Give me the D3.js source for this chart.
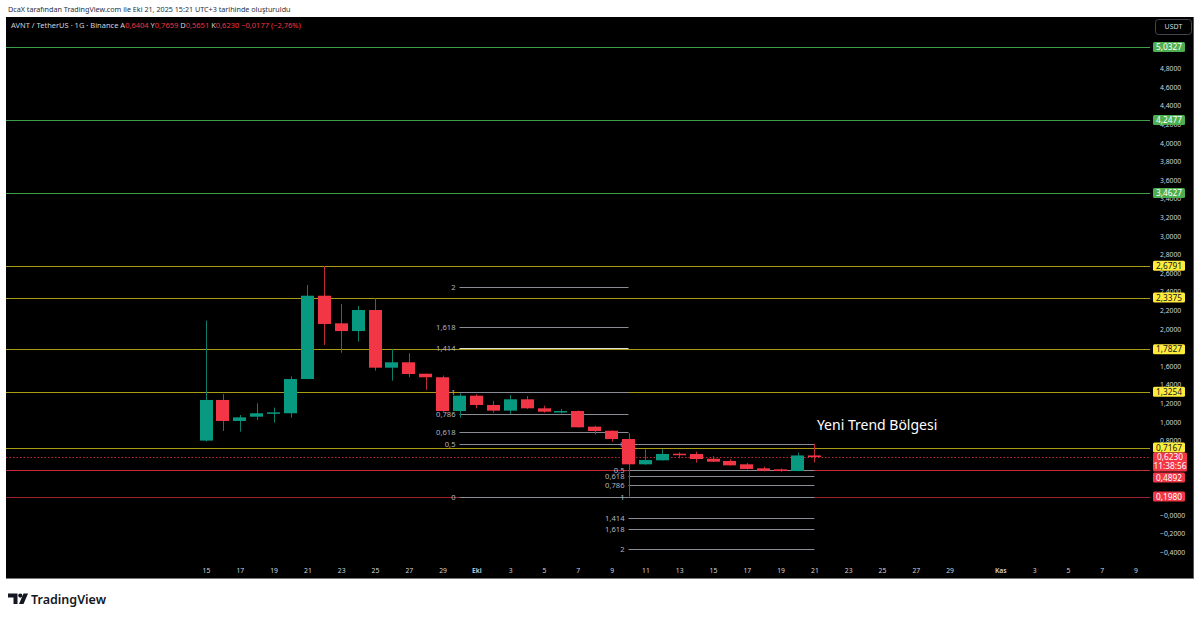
<!DOCTYPE html>
<html><head><meta charset="utf-8">
<script src="https://cdn.jsdelivr.net/npm/d3@7"></script>
<style>
body{margin:0;background:#fff;}
svg{display:block;font-family:"Noto Sans",sans-serif;}
</style>
</head><body>
<svg id="c" width="1200" height="617"></svg>
<script>
// ---------- DATA ----------
const opens  = [0.800,1.237,1.011,1.057,1.094,1.094,1.462,2.358,2.061,1.978,2.204,1.584,1.642,1.519,1.481,1.118,1.283,1.183,1.122,1.244,1.147,1.111,1.118,0.950,0.906,0.817,0.545,0.588,0.659,0.656,0.605,0.581,0.545,0.502,0.491,0.473,0.6404];
const highs  = [2.090,1.300,1.075,1.200,1.154,1.491,2.473,2.677,2.269,2.247,2.330,1.782,1.739,1.520,1.500,1.309,1.298,1.229,1.290,1.280,1.175,1.140,1.125,0.960,0.910,0.880,0.706,0.706,0.674,0.681,0.634,0.599,0.560,0.520,0.500,0.670,0.7659];
const lows   = [0.790,0.903,0.896,1.022,0.993,1.046,1.460,1.828,1.745,1.864,1.552,1.444,1.481,1.344,1.110,1.046,1.147,1.100,1.083,1.140,1.100,1.093,0.940,0.868,0.788,0.198,0.540,0.585,0.610,0.562,0.570,0.530,0.490,0.470,0.465,0.470,0.5651];
const closes = [1.237,1.011,1.050,1.094,1.104,1.462,2.358,2.054,1.978,2.204,1.584,1.642,1.516,1.481,1.118,1.283,1.183,1.122,1.244,1.147,1.111,1.118,0.943,0.903,0.817,0.545,0.591,0.656,0.652,0.602,0.573,0.534,0.495,0.476,0.473,0.6404,0.6230];
const firstDay = "2025-09-15";

const greenLevels  = [5.0327, 4.2477, 3.4627];
const yellowLevels = [2.6791, 2.3375, 1.7827, 1.3254, 0.7167];
const redLevels    = [0.4892, 0.1980];
const lastPrice = 0.6230;
const countdown = "11:38:56";

const fibLevels = [0, 0.5, 0.618, 0.786, 1, 1.414, 1.618, 2];
const fib1 = {p0: 0.198, p1: 1.3254, from: "2025-09-30", to: "2025-10-10"};
const fib2 = {p0: 0.765, p1: 0.198, from: "2025-10-10", to: "2025-10-21"};

const yTicks = [4.8,4.6,4.4,4.2,4.0,3.8,3.6,3.4,3.2,3.0,2.8,2.6,2.4,2.2,2.0,1.8,1.6,1.4,1.2,1.0,0.8,0.6,0.4,0.2,0,-0.2,-0.4];
const yTickLabels = ["4,8000","4,6000","4,4000","4,2000","4,0000","3,8000","3,6000","3,4000","3,2000","3,0000","2,8000","2,6000","2,4000","2,2000","2,0000","1,8000","1,6000","1,4000","1,2000","1,0000","0,8000","0,6000","0,4000","0,2000","\u22120,0000","\u22120,2000","\u22120,4000"];

const xTickDates = ["2025-09-15","2025-09-17","2025-09-19","2025-09-21","2025-09-23","2025-09-25","2025-09-27","2025-09-29","2025-10-01","2025-10-03","2025-10-05","2025-10-07","2025-10-09","2025-10-11","2025-10-13","2025-10-15","2025-10-17","2025-10-19","2025-10-21","2025-10-23","2025-10-25","2025-10-27","2025-10-29","2025-11-01","2025-11-03","2025-11-05","2025-11-07","2025-11-09"];
const xTickLabels = ["15","17","19","21","23","25","27","29","Eki","3","5","7","9","11","13","15","17","19","21","23","25","27","29","Kas","3","5","7","9"];

const annotation = {text: "Yeni Trend Bölgesi", date: "2025-10-21", price: 0.914};
const headerTitle = "AVNT / TetherUS \u00b7 1G \u00b7 Binance";
const headerOHLC = [["A","0,6404"],["Y","0,7659"],["D","0,5651"],["K","0,6230"]];
const headerChange = "\u22120,0177 (\u22122,76%)";
const topNote = "DcaX tarafından TradingView.com ile Eki 21, 2025 15:21 UTC+3 tarihinde oluşturuldu";

// ---------- LAYOUT ----------
const panel = {x0: 6, x1: 1194, y0: 17, y1: 579};
const plot = {x0: 6, x1: 1150, y0: 17, y1: 561};
const parse = d3.utcParse("%Y-%m-%d");
const dates = d3.utcDay.range(parse(firstDay), d3.utcDay.offset(parse(firstDay), opens.length));
const candles = dates.map((d,i)=>({date:d,o:opens[i],h:highs[i],l:lows[i],c:closes[i]}));

const x = d3.scaleUtc().domain([parse("2025-09-15"), parse("2025-11-09")]).range([206, 1135.5]);
const y = d3.scaleLinear().domain([-0.4946, 5.3548]).range([561, 17]);
const dayW = x(parse("2025-09-16")) - x(parse("2025-09-15"));
const bodyW = dayW * 0.76;

const GREEN = "#089981", RED = "#f23645";
const svg = d3.select("#c");

// top note
svg.append("text").attr("x", 8).attr("y", 12).attr("font-size", 7.2).attr("fill", "#2a2e39").text(topNote);

// panel
svg.append("rect").attr("x", panel.x0).attr("y", panel.y0).attr("width", panel.x1-panel.x0).attr("height", panel.y1-panel.y0).attr("fill", "#000");
svg.append("line").attr("x1", panel.x1-0.5).attr("x2", panel.x1-0.5).attr("y1", panel.y0).attr("y2", panel.y1).attr("stroke", "#555");
svg.append("line").attr("x1", panel.x0).attr("x2", panel.x1).attr("y1", panel.y1-0.5).attr("y2", panel.y1-0.5).attr("stroke", "#777");

svg.append("clipPath").attr("id", "pc").append("rect")
  .attr("x", plot.x0).attr("y", plot.y0).attr("width", plot.x1-plot.x0).attr("height", plot.y1-plot.y0);
const g = svg.append("g").attr("clip-path", "url(#pc)");

// horizontal levels
function hline(v, color, dash) {
  g.append("line").attr("x1", plot.x0).attr("x2", plot.x1)
    .attr("y1", Math.round(y(v))+0.5).attr("y2", Math.round(y(v))+0.5)
    .attr("stroke", color).attr("stroke-width", 1).attr("stroke-dasharray", dash || null);
}
greenLevels.forEach(v=>hline(v, "#3f9e48"));
yellowLevels.forEach(v=>hline(v, "#ab9c18"));
hline(redLevels[0], "#c42a36");
hline(redLevels[1], "#9a222c");
hline(lastPrice, "#c42a36", "1.5,2");

// fib tools
function drawFib(f) {
  const xa = x(parse(f.from)), xb = x(parse(f.to));
  const fg = g.append("g");
  fibLevels.forEach(l=>{
    const p = f.p0 + l*(f.p1 - f.p0);
    const yy = Math.round(y(p))+0.5;
    fg.append("line").attr("x1", xa).attr("x2", xb).attr("y1", yy).attr("y2", yy)
      .attr("stroke", l === 1.414 && f === fib1 ? "#e0e0e0" : "#8a8d95").attr("stroke-width", 1);
    fg.append("text").attr("x", xa-4).attr("y", yy).attr("dy", "0.35em")
      .attr("text-anchor", "end").attr("font-size", 7.6).attr("fill", "#b2b5be")
      .text(String(l).replace(".", ","));
  });
}
drawFib(fib1);
drawFib(fib2);

// candles
const cg = g.append("g");
cg.selectAll("line.w").data(candles).join("line")
  .attr("x1", d=>Math.round(x(d.date))+0.5).attr("x2", d=>Math.round(x(d.date))+0.5)
  .attr("y1", d=>y(d.h)).attr("y2", d=>y(d.l))
  .attr("stroke", d=>d.c>=d.o ? "#0b7d6a" : "#c02a37").attr("stroke-width", 1);
cg.selectAll("rect.b").data(candles).join("rect")
  .attr("x", d=>Math.round(x(d.date) - bodyW/2))
  .attr("width", Math.round(bodyW))
  .attr("y", d=>y(Math.max(d.o,d.c)))
  .attr("height", d=>Math.max(1.5, Math.abs(y(d.o)-y(d.c))))
  .attr("fill", d=>d.c>=d.o ? GREEN : RED);

// annotation
g.append("text").attr("x", x(parse(annotation.date))+2.5).attr("y", y(annotation.price))
  .attr("font-size", 14).attr("fill", "#ffffff").text(annotation.text);

// y axis
const yAxis = d3.axisRight(y).tickValues(yTicks).tickSize(0).tickPadding(0)
  .tickFormat((d,i)=>yTickLabels[i]);
const ya = svg.append("g").attr("transform", `translate(1160,0)`).call(yAxis);
ya.select(".domain").remove();
ya.selectAll("text").attr("fill", "#d1d4dc").attr("font-size", 6.8).attr("font-family", "Noto Sans");

// x axis
const xAxis = d3.axisBottom(x).tickValues(xTickDates.map(parse)).tickSize(0).tickPadding(0)
  .tickFormat((d,i)=>xTickLabels[i]);
const xa = svg.append("g").attr("transform", `translate(0,568)`).call(xAxis);
xa.select(".domain").remove();
xa.selectAll("text").attr("fill", "#d1d4dc").attr("font-size", 6.8).attr("font-family", "Noto Sans")
  .attr("font-weight", (d,i)=>/[A-Za-z]/.test(xTickLabels[i]) ? 600 : 400);

// price labels on axis
const fmt = v => d3.format(".4f")(v).replace(".", ",");
const lastY = y(lastPrice);
const lastBox = {top: lastY - 4.5, bottom: lastY - 4.5 + 19};
const labels = [
  ...greenLevels.map(v=>({v, fill:"#4caf50", tc:"#fff"})),
  ...yellowLevels.map(v=>({v, fill:"#ffeb3b", tc:"#131722"})),
  ...redLevels.map(v=>({v, fill:RED, tc:"#fff"}))
];
labels.forEach(d=>{
  d.cy = y(d.v);
  if (d.cy+5 > lastBox.top && d.cy-5 < lastBox.bottom) {
    d.cy = d.cy < lastY ? lastBox.top - 5 : lastBox.bottom + 6;
  }
});
const lg = svg.append("g");
labels.forEach(d=>{
  lg.append("rect").attr("x", 1153).attr("y", d.cy-5).attr("width", 32).attr("height", 10).attr("rx", 1.5).attr("fill", d.fill);
  lg.append("text").attr("x", 1169).attr("y", d.cy).attr("dy", "0.36em").attr("text-anchor", "middle")
    .attr("font-size", 8.3).attr("fill", d.tc).text(fmt(d.v));
});
lg.append("rect").attr("x", 1153).attr("y", lastBox.top).attr("width", 34).attr("height", 19).attr("rx", 1.5).attr("fill", RED);
lg.append("text").attr("x", 1170).attr("y", lastY).attr("dy", "0.36em").attr("text-anchor", "middle")
  .attr("font-size", 8.3).attr("fill", "#fff").text(fmt(lastPrice));
lg.append("text").attr("x", 1170).attr("y", lastY+9).attr("dy", "0.36em").attr("text-anchor", "middle")
  .attr("font-size", 8.3).attr("fill", "#fff").text(countdown);

// USDT button
svg.append("rect").attr("x", 1155.5).attr("y", 19.5).attr("width", 36).attr("height", 15).attr("rx", 3)
  .attr("fill", "#000").attr("stroke", "#434651");
svg.append("text").attr("x", 1173.5).attr("y", 27).attr("dy", "0.35em").attr("text-anchor", "middle")
  .attr("font-size", 7).attr("fill", "#d1d4dc").text("USDT");

// header legend
const ht = svg.append("text").attr("x", 11).attr("y", 28).attr("font-size", 7.5);
ht.append("tspan").attr("fill", "#d1d4dc").text(headerTitle + "  ");
headerOHLC.forEach(([k,v])=>{
  ht.append("tspan").attr("fill", "#d1d4dc").text(k);
  ht.append("tspan").attr("fill", RED).text(v + "  ");
});
ht.append("tspan").attr("fill", RED).text(headerChange);

// footer logo
const fl = svg.append("g").attr("fill", "#131722");
fl.append("path").attr("d", "M8,593.5 H17.5 V604 H13.5 V597.5 H8 Z");
fl.append("circle").attr("cx", 20.3).attr("cy", 595.6).attr("r", 2.1);
fl.append("path").attr("d", "M23.5,593.5 H28 L23.5,604 H19 Z");
svg.append("text").attr("x", 31).attr("y", 603.5).attr("font-size", 12.5).attr("font-weight", 600)
  .attr("fill", "#131722").text("TradingView");
</script>
</body></html>
